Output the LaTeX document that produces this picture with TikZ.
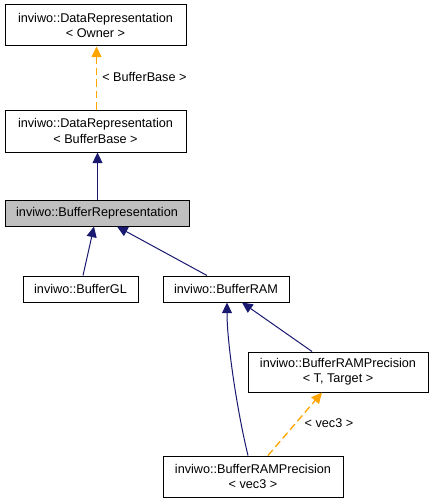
\documentclass[tikz,border=0pt]{standalone}
\usepackage{fontspec}
\setmainfont{Liberation Sans}
\usetikzlibrary{arrows.meta}
\definecolor{edgeblue}{HTML}{191970}
\definecolor{edgeorange}{HTML}{FFA500}
\definecolor{boxgray}{HTML}{BFBFBF}
\begin{document}
\begin{tikzpicture}[x=0.75pt,y=-0.75pt,
  cls/.style={draw=black,line width=0.75pt,fill=white,rectangle,inner sep=0pt,align=center,
    font=\fontsize{9.5}{11.5}\selectfont,text=black},
  inh/.style={draw=edgeblue,line width=0.75pt,-{Triangle[length=8pt,width=7.5pt]},fill=none},
  tmpl/.style={draw=edgeorange,line width=1pt,dash pattern=on 5.5pt off 3pt,-{Triangle[length=8pt,width=7.5pt,fill=edgeorange]}},
  lbl/.style={font=\fontsize{9.5}{11.5}\selectfont,inner sep=0pt,text=black}]
\useasboundingbox (0,0) rectangle (434,503);
\node[cls,minimum width=181*0.75pt,minimum height=41*0.75pt] (b1) at (95.5,25.5) {inviwo::DataRepresentation\\{<} Owner {>}};
\node[cls,minimum width=181*0.75pt,minimum height=42*0.75pt] (b2) at (95.5,131) {inviwo::DataRepresentation\\{<} BufferBase {>}};
\node[cls,fill=boxgray,minimum width=184*0.75pt,minimum height=26*0.75pt] (b3) at (97,213) {inviwo::BufferRepresentation};
\node[cls,minimum width=115*0.75pt,minimum height=26*0.75pt] (gl) at (80.5,289) {inviwo::BufferGL};
\node[cls,minimum width=126*0.75pt,minimum height=26*0.75pt] (ram) at (226,289) {inviwo::BufferRAM};
\node[cls,minimum width=180*0.75pt,minimum height=40*0.75pt] (pt) at (338,372) {inviwo::BufferRAMPrecision\\{<} T, Target {>}};
\node[cls,minimum width=180*0.75pt,minimum height=41*0.75pt] (pv) at (253,476.5) {inviwo::BufferRAMPrecision\\{<} vec3 {>}};

\draw[tmpl] ([xshift=1*0.75pt]b2.north) -- ([xshift=1*0.75pt]b1.south);
\node[lbl,anchor=west] (l1) at (102,77) {{<} BufferBase {>}};
\draw[inh] ([xshift=0.5*0.75pt]b3.north) -- ([xshift=2*0.75pt]b2.south);
\draw[inh] ([xshift=2.5*0.75pt]gl.north) -- ([xshift=-3*0.75pt]b3.south);
\draw[inh] ([xshift=-19*0.75pt]ram.north) -- ([xshift=20*0.75pt]b3.south);
\draw[inh] ([xshift=-26*0.75pt]pt.north) -- ([xshift=16*0.75pt]ram.south);
\draw[inh] ([xshift=-5*0.75pt]pv.north) .. controls ([xshift=-16*0.75pt,yshift=45*0.75pt]pv.north) and ([xshift=1*0.75pt,yshift=-40*0.75pt]ram.south) .. ([xshift=1*0.75pt]ram.south);
\draw[tmpl] ([xshift=15*0.75pt]pv.north) -- ([xshift=-16*0.75pt]pt.south);
\node[lbl] (l2) at (329,423) {{<} vec3 {>}};
\end{tikzpicture}
\end{document}
